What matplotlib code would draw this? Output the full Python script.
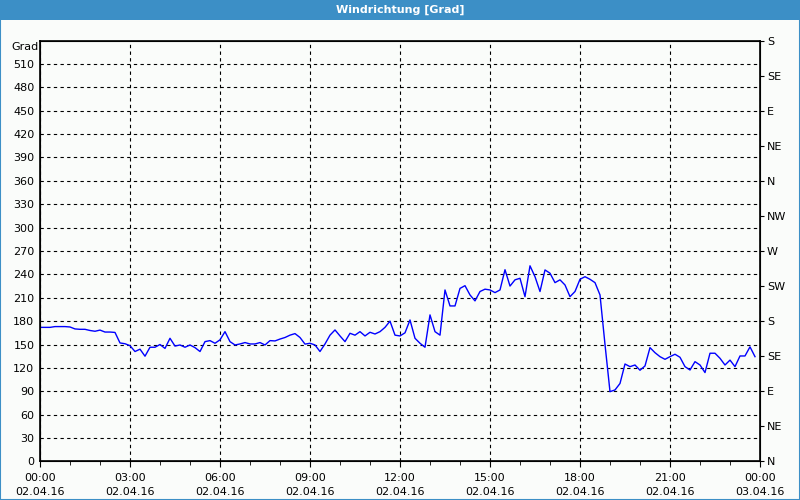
import numpy as np
import matplotlib.pyplot as plt
import matplotlib.ticker as mticker
from matplotlib.patches import Rectangle

# wind direction in degrees, one value every 10 minutes from 00:00
direction = [
    172, 172, 172, 173, 173, 173, 172.5, 170, 169.5, 169.5, 168, 167,
    168.5, 166, 166, 165.5, 152, 151, 148.5, 141, 144, 135, 146.5, 146.5,
    150, 145, 158, 148, 149.4, 146.5, 149.4, 146, 141, 153.7, 155, 151.6,
    156, 166.5, 153.7, 149.4, 150.7, 152.5, 150.7, 150.7, 152.5, 149.4, 155, 154.6,
    157, 159, 162, 164, 159, 150.5, 151.6, 149.4, 141, 150.7, 162, 168.7,
    161, 153.7, 164.4, 162, 166.5, 161, 165.7, 163.5, 166.5, 172, 180, 162,
    161, 165, 181.5, 158, 151.6, 146.5, 188, 166.5, 162, 220, 199.5, 199.5,
    222, 225.5, 213.6, 206, 218, 221, 220, 216.6, 220, 246, 225, 233,
    235, 211.4, 251, 237, 218, 245.7, 241.5, 229.4, 233, 226.4, 211.4, 218,
    233.7, 237, 233.7, 229.4, 213.6, 150, 89.5, 91.7, 100, 125, 121.6, 123.7,
    117, 122.5, 146, 139.5, 134.4, 131, 134.4, 137.5, 133.6, 121.6, 117.3, 128,
    123.7, 114, 138.8, 138.8, 132.3, 123.7, 130, 121.6, 135.3, 135.3, 147, 134.4,
]
hours = np.arange(len(direction)) / 6.0

left_ticks = list(range(0, 540, 30))
compass_ticks = list(range(0, 541, 45))
compass_labels = ["N", "NE", "E", "SE", "S", "SW", "W", "NW", "N", "NE", "E", "SE", "S"]
x_ticks = list(range(0, 25, 3))
x_labels = ["00:00\n02.04.16", "03:00\n02.04.16", "06:00\n02.04.16", "09:00\n02.04.16",
            "12:00\n02.04.16", "15:00\n02.04.16", "18:00\n02.04.16", "21:00\n02.04.16",
            "00:00\n03.04.16"]

bg = "#fafcfa"
bar_blue = "#3c8fc6"

fig = plt.figure(figsize=(8, 5), dpi=100, facecolor=bg)

# title bar and frame
fig.patches.append(Rectangle((0, 0.96), 1, 0.04, transform=fig.transFigure,
                             facecolor=bar_blue, edgecolor="none", zorder=0))
fig.patches.append(Rectangle((0.0006, 0.001), 0.9988, 0.998, transform=fig.transFigure,
                             facecolor="none", edgecolor=bar_blue, linewidth=1.5, zorder=0))
fig.text(0.5, 0.98, "Windrichtung [Grad]", color="white", fontsize=8,
         fontweight="bold", ha="center", va="center")

ax = fig.add_axes([0.05, 0.0772, 0.90, 0.8416])
ax.set_facecolor(bg)
ax.plot(hours, direction, color="#0000ff", linewidth=1)

ax.set_xlim(0, 24)
ax.set_ylim(0, 540)

ax.set_yticks(left_ticks)
ax.set_yticklabels([str(v) for v in left_ticks], fontsize=8)
ax.tick_params(axis="y", length=0, pad=4)

ax.set_xticks(x_ticks)
ax.set_xticklabels(x_labels, fontsize=8, linespacing=1.6)
ax.xaxis.set_minor_locator(mticker.MultipleLocator(1))
ax.tick_params(axis="x", which="major", length=4, direction="out", pad=4)
ax.tick_params(axis="x", which="minor", length=3, direction="out")

ax.grid(True, which="major", color="black", linestyle=(0, (3, 3)), linewidth=0.8)
for s in ax.spines.values():
    s.set_color("black")
    s.set_linewidth(1.2)

ax2 = ax.twinx()
ax2.set_ylim(0, 540)
ax2.set_yticks(compass_ticks)
ax2.set_yticklabels(compass_labels, fontsize=8)
ax2.tick_params(axis="y", length=3, pad=2)

fig.text(0.048, 0.905, "Grad", fontsize=8, ha="right", va="center")

fig.savefig("out.png", dpi=100, facecolor=bg)
